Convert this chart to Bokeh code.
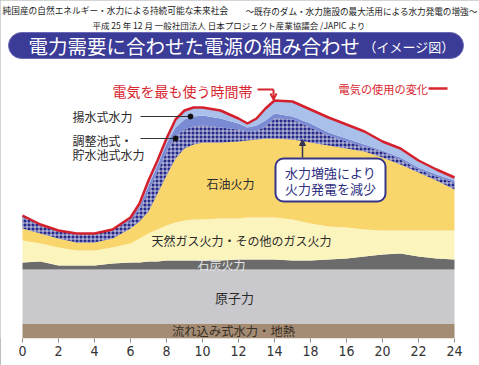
import numpy as np
from bokeh.plotting import figure
from bokeh.models import Range1d, FixedTicker, Arrow, NormalHead, OpenHead, GlobalInlineStyleSheet
from bokeh.core.properties import value
from bokeh.embed import file_html
from bokeh.resources import INLINE

# ---------------- data (hour of day, relative output of each source) ----------------
hours = [0, 1, 2, 3, 4, 5, 6, 6.5, 7, 7.5, 8, 8.5, 9, 9.5, 10, 11, 12, 12.5, 13, 13.5,
         14, 15, 16, 17, 18, 19, 20, 21, 22, 23, 24]
run_of_river = [15] * len(hours)          # 流れ込み式水力・地熱
nuclear = [54] * len(hours)               # 原子力
coal = [7, 8, 4, 4, 4, 6, 7, 7, 8, 8, 9, 9, 9, 9, 9, 9, 10, 10, 10, 10,
        10, 9, 9, 10, 11, 13, 15, 16, 13, 11, 10]
gas = [22, 18, 18, 15, 15, 16, 19, 24, 28, 32, 35, 38, 40, 41, 41, 42, 41, 42, 42, 42,
       42, 41, 37, 33, 31, 27, 24, 23, 26, 28, 29]
oil = [12, 10, 9, 8, 8, 9, 15, 17, 22, 36, 50, 64, 72, 75, 77, 76, 77, 77, 78, 79,
       79, 80, 81, 81, 79, 78, 73, 66, 58, 50, 41]
hydro_boost = [13, 9, 8, 9, 9, 9, 8, 12, 20, 22, 24, 22, 19, 18, 17, 15, 12, 9, 9, 12,
               20, 20, 15, 10, 7, 5, 6, 5, 3, 4, 7]
pondage = [0, 0, 0, 0, 0, 0, 2, 3, 6, 6, 8, 9, 10, 10, 10, 9, 6, 4, 5, 6,
           5, 3, 4, 3, 3, 2, 1, 2, 2, 2, 2]
pumped = [0, 0, 0, 0, 0, 0, 1, 3, 5, 5, 5, 8, 9, 9, 8, 8, 5, 4, 7, 12,
          13, 15, 14, 15, 14, 13, 9, 9, 7, 5, 3]

tick_values = [0, 2, 4, 6, 8, 10, 12, 14, 16, 18, 20, 22, 24]
tick_labels = ["0", "2", "4", "6", "8", "10", "12", "14", "18", "16", "20", "22", "24"]

title_left = "純国産の自然エネルギー・水力による持続可能な未来社会"
title_right = "～既存のダム・水力施設の最大活用による水力発電の増強～"
subtitle = "平成 25 年 12 月 一般社団法人 日本プロジェクト産業協議会 /JAPIC より"
banner_main = "電力需要に合わせた電源の組み合わせ"
banner_sub = "（イメージ図）"

# ---------------- figure ----------------
W, H = 479, 365
AX = 27
x0px, pxh = 22.0, 18.0


def X(px):
    return (px - x0px) / pxh


def Y(py):
    return (H - AX) - py


p = figure(width=W, height=H, output_backend="svg", toolbar_location=None,
           x_range=Range1d(X(0), X(W)), y_range=Range1d(0, H - AX),
           y_axis_location=None, min_border_left=0, min_border_right=0,
           min_border_top=0, min_border_bottom=AX)
p.stylesheets = [GlobalInlineStyleSheet(css="html,body{margin:0 !important;padding:0;overflow:hidden;}")]
p.styles = {"outline": "1px solid #a8a8a8", "outline-offset": "-1px"}
p.outline_line_color = None
p.xgrid.visible = False
p.ygrid.visible = False
p.background_fill_color = "white"
p.border_fill_color = "white"

ax = p.xaxis[0]
ax.ticker = FixedTicker(ticks=tick_values)
ax.major_label_overrides = {v: l for v, l in zip(tick_values, tick_labels)}
ax.axis_line_color = None
ax.major_tick_line_color = "#8a8a8a"
ax.major_tick_in = 0
ax.major_tick_out = 4
ax.minor_tick_line_color = None
ax.major_label_standoff = 3
ax.major_label_text_font = "'Liberation Sans Narrow', 'DejaVu Sans Condensed', 'DejaVu Sans', sans-serif"
ax.major_label_text_font_size = "14px"
ax.major_label_text_color = "#333333"

# ---------------- stacked areas ----------------
layers = [
    (run_of_river, "#a48c74"),
    (nuclear, "#c9c9cd"),
    (coal, "#6b6b6b"),
    (gas, "#fcf4bd"),
    (oil, "#f9d66c"),
    (hydro_boost, None),
    (pondage, "#7a8bd3"),
    (pumped, "#a9c1ea"),
]
base = np.zeros(len(hours))
for vals, col in layers:
    top = base + np.array(vals, dtype=float)
    if col is None:
        p.varea(x=hours, y1=base, y2=top, fill_color="#262a8a",
                hatch_pattern="+", hatch_color="white", hatch_scale=4,
                hatch_weight=1, hatch_alpha=0.75)
    else:
        p.varea(x=hours, y1=base, y2=top, fill_color=col)
    base = top
total = base
p.line(hours, total, line_color="#d4202c", line_width=2.5)

JP = value("Noto Sans CJK JP")
DARK = "#2b2b2b"
RED = "#d7262f"


def txt(px, py, s, size, color=DARK, align="left"):
    p.text(x=[X(px)], y=[Y(py)], text=[s], text_font=JP, text_font_size=size,
           text_color=color, text_align=align, text_baseline="middle")


# ---------------- titles ----------------
txt(2, 10, title_left, "8.7px", "#222222")
txt(477, 10, title_right, "8.6px", "#222222", "right")
txt(228, 24, subtitle, "8.5px", "#222222", "center")
p.quad(left=X(8), right=X(463), top=Y(32), bottom=Y(58), border_radius=13,
       fill_color="#3b3b98", line_color="#6a6ab8", line_width=1)
txt(28, 45, banner_main, "19.5px", "white")
txt(363, 46, banner_sub, "13px", "white")

# ---------------- annotations ----------------
txt(112, 90, "電気を最も使う時間帯", "14px", RED)
p.line([X(257), X(273)], [Y(89), Y(89)], line_color=RED, line_width=2)
p.add_layout(Arrow(end=OpenHead(size=6, line_color=RED, line_width=2),
                   x_start=X(273), y_start=Y(89), x_end=X(273), y_end=Y(99),
                   line_color=RED, line_width=2))
txt(338, 88, "電気の使用の変化", "11.2px", RED)
p.line([X(428), X(447)], [Y(88), Y(88)], line_color=RED, line_width=2.5)

txt(72, 116, "揚水式水力", "12px")
txt(72, 140, "調整池式・", "12px")
txt(72, 154, "貯水池式水力", "12px")
p.line([X(140), X(190)], [Y(116), Y(116)], line_color="#333333", line_width=1)
p.line([X(140), X(175)], [Y(138), Y(138)], line_color="#333333", line_width=1)
p.scatter([X(190), X(175)], [Y(116), Y(138)], size=5, color="#111111")

txt(230, 183, "石油火力", "12px", DARK, "center")

p.quad(left=X(275), right=X(385), top=Y(158), bottom=Y(201), border_radius=8,
       fill_color="white", line_color="#35358a", line_width=2)
txt(330, 172, "水力増強により", "13px", "#2e3080", "center")
txt(330, 188, "火力発電を減少", "13px", "#2e3080", "center")
p.add_layout(Arrow(end=NormalHead(size=6, fill_color="#333355", line_color="#333355"),
                   x_start=X(302), y_start=Y(157), x_end=X(302), y_end=Y(139),
                   line_color="#333355", line_width=1.5))

txt(241, 240, "天然ガス火力・その他のガス火力", "12px", DARK, "center")
txt(221, 264, "石炭火力", "12px", "#e4e4e4", "center")
txt(234, 297, "原子力", "13px", DARK, "center")
txt(233, 330, "流れ込み式水力・地熱", "12.3px", "#3a2f24", "center")

open("out.html", "w").write(file_html(p, INLINE))
